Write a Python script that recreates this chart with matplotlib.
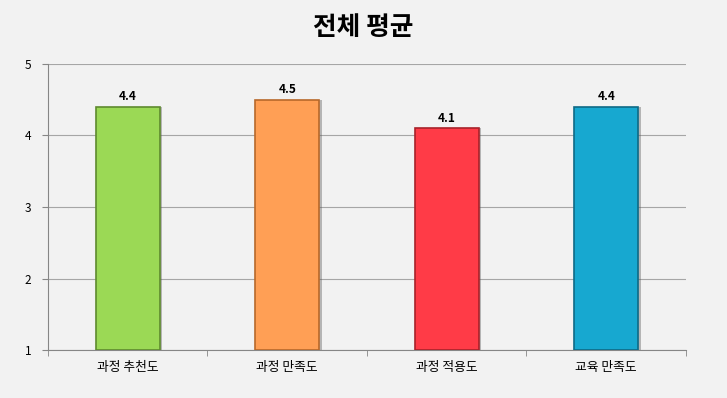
import numpy as np
import matplotlib.pyplot as plt

plt.rcParams['font.family'] = ['Noto Sans CJK KR', 'DejaVu Sans']

# data
categories = ["과정 추천도", "과정 만족도", "과정 적용도", "교육 만족도"]
values = [4.4, 4.5, 4.1, 4.4]
colors = ["#9BD955", "#FF9F55", "#FF3B47", "#17A8D0"]
edges = ["#5E8A2E", "#B8682A", "#A8222A", "#0E6A86"]

fig = plt.figure(figsize=(7.27, 3.98), dpi=100, facecolor="#F2F2F2")
ax = fig.add_axes([0.066, 0.1206, 0.8776, 0.7186])
ax.set_facecolor("#F2F2F2")

x = np.arange(len(categories))
w = 0.4
vals = np.array(values)

# soft shadow behind the bars
ax.bar(x + 0.015, vals - 1, bottom=1, width=w, color="#5A5A5A", alpha=0.4, zorder=2)
ax.bar(x, vals - 1, bottom=1, width=w, color=colors, edgecolor=edges,
       linewidth=1.2, zorder=3)

for xi, v in zip(x, values):
    ax.text(xi, v + 0.05, f"{v:.1f}", ha="center", va="bottom",
            fontsize=8.5, fontweight="bold", color="black", zorder=5)

ax.set_xlim(-0.5, len(categories) - 0.5)
ax.set_ylim(1, 5)
ax.set_yticks([1, 2, 3, 4, 5])
ax.yaxis.grid(True, color="#A6A6A6", linewidth=0.8)
ax.set_axisbelow(True)

# category labels centered, tick marks between categories
ax.set_xticks(x)
ax.set_xticklabels(categories, fontsize=9.2, fontweight="medium")
ax.tick_params(axis="x", length=0, pad=8)
ax.set_xticks(np.arange(-0.5, len(categories)), minor=True)
ax.tick_params(axis="x", which="minor", length=4, color="#868686")
ax.tick_params(axis="y", length=4, color="#868686", labelsize=8.5, pad=8)

for s in ["top", "right"]:
    ax.spines[s].set_visible(False)
for s in ["left", "bottom"]:
    ax.spines[s].set_color("#868686")

fig.text(0.5, 0.93, "전체 평균", ha="center", va="center",
         fontsize=18.5, fontweight="bold")

fig.savefig("out.png", dpi=100, facecolor=fig.get_facecolor())
